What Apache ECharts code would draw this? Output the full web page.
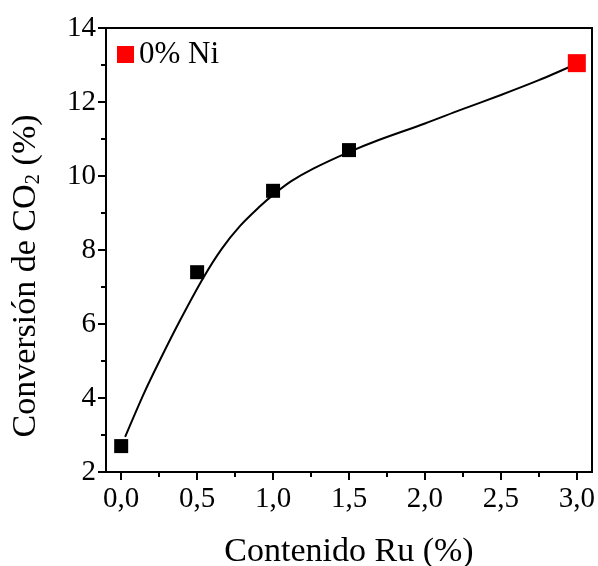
<!DOCTYPE html>
<html>
<head>
    <meta charset="utf-8" />
    <title></title>
    <script type="text/javascript" src="https://cdn.jsdelivr.net/npm/echarts@6/dist/echarts.min.js"></script>
    <style>
        html, body { margin: 0; padding: 0; background: #fff; }
        #con1 { width: 598px; height: 566px; }
    </style>
</head>
<body>
    <div id="con1"></div>
    <script type="text/javascript">
        // datos medidos
        var ruContent = [0, 0.5, 1.0, 1.5];
        var conversion = [2.7, 7.4, 9.6, 10.7];
        var niFreeRu = [3.0];
        var niFreeConv = [13.05];
        // curva de ajuste
        var fitRu = [0.026, 0.147, 0.257, 0.388, 0.541, 0.662, 0.783, 0.914, 1.0, 1.12, 1.265, 1.495, 1.7, 2.0, 2.23, 2.5, 2.75, 2.97];
        var fitConv = [2.95, 4.1, 5.04, 6.1, 7.25, 8.03, 8.65, 9.18, 9.49, 9.86, 10.2, 10.64, 10.98, 11.42, 11.78, 12.19, 12.59, 12.98];
        var xMajorTicks = [0, 0.5, 1.0, 1.5, 2.0, 2.5, 3.0];
        var xMinorTicks = [0.25, 0.75, 1.25, 1.75, 2.25, 2.75];

        var serif = 'Liberation Serif';
        var plotH = 566 - 28 - 94;
        function coma(v) { return v.toFixed(1).replace('.', ','); }
        function pairs(xs, ys) {
            var out = [];
            for (var i = 0; i < xs.length; i++) out.push([xs[i], ys[i]]);
            return out;
        }

        var myChart1 = echarts.init(document.getElementById('con1'));
        var option1 = {
            backgroundColor: '#fff',
            animation: false,
            grid: {
                left: 106, right: 6, top: 28, bottom: 94,
                outerBoundsMode: 'none', containLabel: false,
                show: true, borderColor: '#000', borderWidth: 2
            },
            legend: {
                data: ['0% Ni'],
                left: 112, top: 34,
                itemWidth: 17, itemHeight: 17, itemGap: 4,
                icon: 'rect',
                textStyle: { fontFamily: serif, fontSize: 31, color: '#000' }
            },
            xAxis: [{
                type: 'value', min: -0.1, max: 3.1, position: 'bottom',
                name: 'Contenido Ru (%)', nameLocation: 'middle', nameGap: 63,
                nameTextStyle: { fontFamily: serif, fontSize: 34, color: '#000' },
                axisLine: { onZero: false, lineStyle: { color: '#000', width: 2 } },
                axisTick: { show: true, customValues: xMajorTicks, length: 8, lineStyle: { color: '#000', width: 2 } },
                axisLabel: { customValues: xMajorTicks, formatter: coma, margin: 13, fontFamily: serif, fontSize: 29, color: '#000' },
                splitLine: { show: false }
            }, {
                // eje auxiliar solo para las marcas menores, desplazado hasta abajo
                type: 'value', min: -0.1, max: 3.1, position: 'top', offset: -plotH,
                axisLine: { show: false, onZero: false },
                axisTick: { show: true, inside: true, customValues: xMinorTicks, length: 5, lineStyle: { color: '#000', width: 2 } },
                axisLabel: { show: false },
                splitLine: { show: false }
            }],
            yAxis: {
                type: 'value', min: 2, max: 14, interval: 2,
                name: 'Conversión de CO{sub|2} (%)', nameLocation: 'middle', nameGap: 62,
                nameTextStyle: {
                    fontFamily: serif, fontSize: 34, color: '#000',
                    padding: [0, 52, 0, 0],
                    rich: { sub: { fontFamily: serif, fontSize: 21, color: '#000', verticalAlign: 'bottom', padding: [14, 0, 0, 0] } }
                },
                axisLine: { show: true, onZero: false, lineStyle: { color: '#000', width: 2 } },
                axisTick: { show: true, length: 8, lineStyle: { color: '#000', width: 2 } },
                minorTick: { show: true, splitNumber: 2, length: 5, lineStyle: { color: '#000', width: 2 } },
                axisLabel: { margin: 10, fontFamily: serif, fontSize: 29, color: '#000' },
                splitLine: { show: false }
            },
            series: [{
                name: 'ajuste', type: 'line', smooth: 0.3, symbol: 'none',
                lineStyle: { color: '#000', width: 2 },
                data: pairs(fitRu, fitConv), z: 2
            }, {
                name: 'Ru', type: 'scatter', symbol: 'rect', symbolSize: 14,
                itemStyle: { color: '#000', opacity: 1 },
                data: pairs(ruContent, conversion), z: 3
            }, {
                name: '0% Ni', type: 'scatter', symbol: 'rect', symbolSize: 18,
                itemStyle: { color: '#ff0000', opacity: 1 },
                data: pairs(niFreeRu, niFreeConv), z: 3
            }]
        };
        option1 && myChart1.setOption(option1);
    </script>
</body>
</html>
